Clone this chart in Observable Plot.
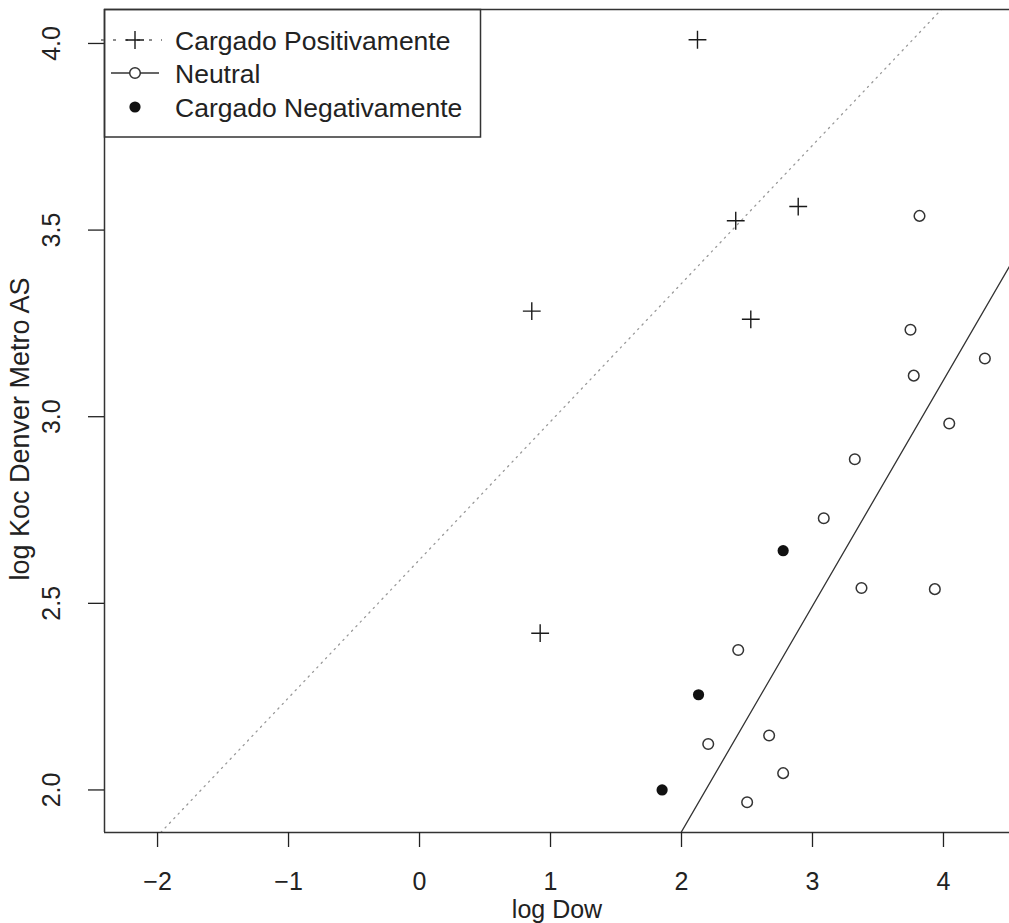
<!DOCTYPE html>
<html>
<head>
<meta charset="utf-8">
<script src="https://cdn.jsdelivr.net/npm/d3@7"></script>
<script src="https://cdn.jsdelivr.net/npm/@observablehq/plot@0.6"></script>
<style>
  html, body { margin: 0; padding: 0; background: #fff; }
  #chart svg { display: block; }
</style>
</head>
<body>
<div id="chart"></div>
<script>
// ---- data ----
const xTicks = [-2, -1, 0, 1, 2, 3, 4];
const yTicks = [2.0, 2.5, 3.0, 3.5, 4.0];

const posX = [2.122, 2.414, 2.891, 0.857, 2.529, 0.921];
const posY = [4.010, 3.525, 3.563, 3.283, 3.261, 2.420];

const neuX = [3.817, 3.748, 3.773, 4.316, 4.044, 3.323, 3.086, 3.374, 3.934, 2.433, 2.204, 2.669, 2.776, 2.501];
const neuY = [3.538, 3.233, 3.110, 3.156, 2.982, 2.886, 2.728, 2.541, 2.538, 2.375, 2.123, 2.146, 2.045, 1.967];

const negX = [2.776, 2.130, 1.852];
const negY = [2.641, 2.255, 2.000];

// reference lines (abline intercept / slope)
const dottedLine = { intercept: 2.617, slope: 0.370 };
const solidLine  = { intercept: 0.678, slope: 0.605 };

const legendLabels = ["Cargado Positivamente", "Neutral", "Cargado Negativamente"];
const xLabel = "log Dow";
const yLabel = "log Koc Denver Metro AS";

const xDomain = [-2.405, 4.504];
const yDomain = [1.886, 4.091];

// ---- helpers ----
const zip = (xs, ys) => xs.map((x, i) => ({ x, y: ys[i] }));
const ablineData = c => xDomain.map(x => ({ x, y: c.intercept + c.slope * x }));
const intFmt = d3.format("d");

const FONT = "'Liberation Sans', Arial, Helvetica, sans-serif";
const INK = "#222";

const chart = Plot.plot({
  width: 1009,
  height: 923,
  marginLeft: 104,
  marginRight: 0,
  marginTop: 9,
  marginBottom: 91,
  style: { fontFamily: FONT, fontSize: "25px", color: INK, background: "#fff", overflow: "visible" },
  x: { domain: xDomain },
  y: { domain: yDomain },
  marks: [
    Plot.line(ablineData(dottedLine), { x: "x", y: "y", stroke: "#999", strokeWidth: 1.3, strokeDasharray: "1.3,5", clip: true }),
    Plot.line(ablineData(solidLine), { x: "x", y: "y", stroke: "#333", strokeWidth: 1.3, clip: true }),
    Plot.dot(zip(posX, posY), { x: "x", y: "y", symbol: "plus", r: 5.8, stroke: "#1a1a1a", strokeWidth: 1.4 }),
    Plot.dot(zip(neuX, neuY), { x: "x", y: "y", r: 5.3, stroke: "#333", strokeWidth: 1.5, fill: "none" }),
    Plot.dot(zip(negX, negY), { x: "x", y: "y", r: 5.6, fill: "#111" }),
    // box (top, bottom, left)
    Plot.ruleY([yDomain[1]], { stroke: "#333", strokeWidth: 1.5 }),
    Plot.ruleY([yDomain[0]], { stroke: "#333", strokeWidth: 1.5 }),
    Plot.ruleX([xDomain[0]], { stroke: "#333", strokeWidth: 1.5 }),
    // axes
    Plot.axisX({ ticks: xTicks, tickFormat: intFmt, tickSize: 15, tickPadding: 25, label: null, fontSize: 25, strokeWidth: 1.3 }),
    Plot.axisY({ ticks: yTicks, tickSize: 16, tickFormat: () => "", label: null, strokeWidth: 1.3 }),
    Plot.text(yTicks, { y: d => d, text: d => d.toFixed(1), frameAnchor: "left", dx: -45, rotate: -90, textAnchor: "middle", lineAnchor: "bottom", fontSize: 25, fill: INK }),
    Plot.text([xLabel], { text: d => d, frameAnchor: "bottom", dy: 85, lineAnchor: "bottom", fontSize: 25, fill: INK }),
    Plot.text([yLabel], { text: d => d, frameAnchor: "left", dx: -76, dy: 8, rotate: -90, textAnchor: "middle", lineAnchor: "bottom", fontSize: 27, fill: INK })
  ]
});

document.getElementById("chart").appendChild(chart);

// ---- legend (top-left, inside the plot box) ----
const svg = d3.select(chart);
const lg = svg.append("g").attr("font-family", FONT).attr("text-anchor", "start");
lg.append("rect")
  .attr("x", 104.5).attr("y", 9.5).attr("width", 376).attr("height", 127.5)
  .attr("fill", "none").attr("stroke", "#333").attr("stroke-width", 1.5);

const rowY = [40, 73, 107];
// row 1: dotted line + plus
lg.append("line").attr("x1", 101).attr("x2", 162).attr("y1", rowY[0]).attr("y2", rowY[0])
  .attr("stroke", "#666").attr("stroke-width", 1.3).attr("stroke-dasharray", "3,9");
lg.append("path").attr("d", `M126,${rowY[0]}H144M135,${rowY[0] - 9}V${rowY[0] + 9}`)
  .attr("stroke", "#1a1a1a").attr("stroke-width", 1.4).attr("fill", "none");
// row 2: solid line + open circle
lg.append("line").attr("x1", 111).attr("x2", 159).attr("y1", rowY[1]).attr("y2", rowY[1])
  .attr("stroke", "#333").attr("stroke-width", 1.3);
lg.append("circle").attr("cx", 135).attr("cy", rowY[1]).attr("r", 5.3)
  .attr("fill", "#fff").attr("stroke", "#333").attr("stroke-width", 1.5);
// row 3: filled dot
lg.append("circle").attr("cx", 135).attr("cy", rowY[2]).attr("r", 5.6).attr("fill", "#111");

lg.selectAll("text.lab").data(legendLabels).join("text")
  .attr("class", "lab")
  .attr("x", 175).attr("y", (d, i) => rowY[i] + 9.5)
  .attr("font-size", 26.5).attr("fill", INK)
  .text(d => d);
</script>
</body>
</html>
